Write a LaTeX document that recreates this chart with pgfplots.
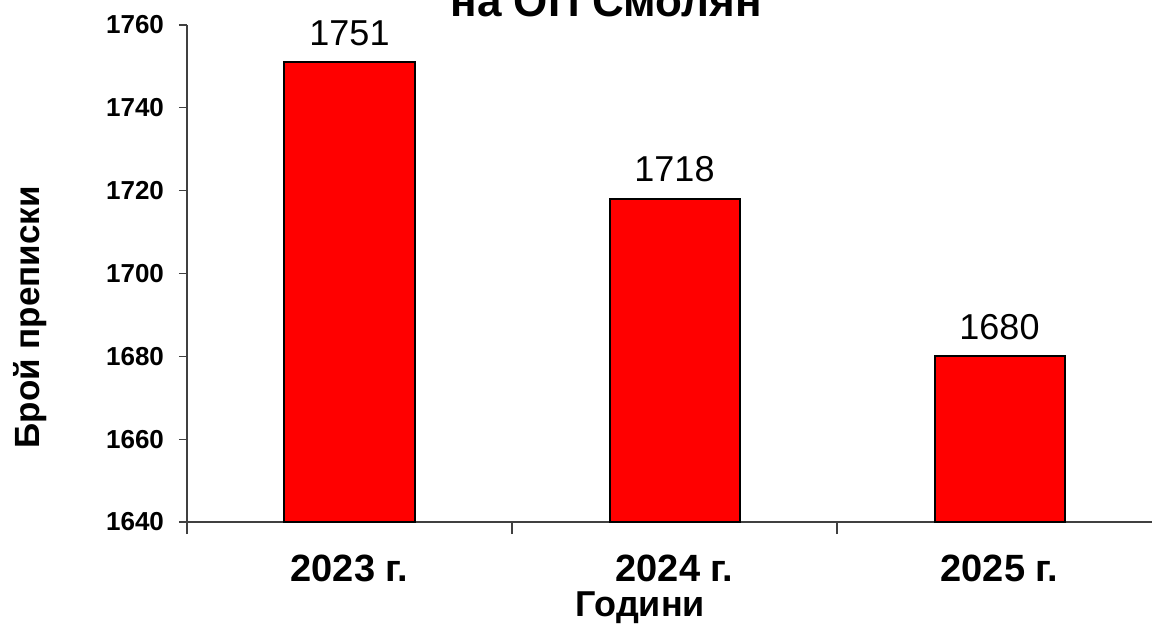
\documentclass[border=0pt]{standalone}
\usepackage{fontspec}
\setmainfont{Liberation Sans}
\usepackage{pgfplots}
\pgfplotsset{compat=1.18}
\begin{document}
\begin{tikzpicture}
\begin{axis}[
  at={(93.5pt,50.5pt)}, anchor=south west,
  scale only axis, width=487.5pt, height=248.5pt,
  xmin=0, xmax=3, ymin=1640, ymax=1760,
  axis x line=bottom, axis y line=left,
  axis line style={-, black!75, line width=0.6pt},
  ytick={1640,1660,...,1760},
  xtick={0.5,1.5,2.5},
  xticklabels={2023 г., 2024 г., 2025 г.},
  major x tick style={draw=none},
  minor xtick={0,1,2,3},
  minor tick length=6pt, major tick length=4pt,
  tick style={black!75, line width=0.6pt},
  tick align=outside,
  /pgf/number format/1000 sep={},
  /pgf/number format/assume math mode=true,
  yticklabel style={font=\fontsize{13}{16}\selectfont\bfseries, xshift=-4pt},
  xticklabel style={font=\fontsize{19}{22}\selectfont\bfseries, yshift=-9pt},
  xlabel={Години},
  xlabel style={at={(axis description cs:0.465,0)}, anchor=base, yshift=-47pt,
    font=\fontsize{18}{21}\selectfont\bfseries},
  ylabel={Брой преписки},
  ylabel style={at={(axis description cs:-0.161,0.412)}, anchor=center,
    font=\fontsize{17.5}{20}\selectfont\bfseries},
  title={на ОП Смолян},
  title style={at={(axis description cs:0.43,1)}, anchor=base, yshift=-1.5pt,
    font=\fontsize{22}{26}\selectfont\bfseries},
  ybar, bar width=65pt,
  nodes near coords={\pgfmathprintnumber[assume math mode=true,1000 sep={}]{\pgfplotspointmeta}},
  nodes near coords style={font=\fontsize{18}{21}\selectfont, black, yshift=4.5pt},
]
\addplot[fill=red, draw=black, line width=1pt] coordinates {
  (0.5,1751) (1.5,1718) (2.5,1680)
};
\end{axis}
\pgfresetboundingbox
\useasboundingbox (0,0) rectangle (576pt,311.5pt);
\end{tikzpicture}
\end{document}
